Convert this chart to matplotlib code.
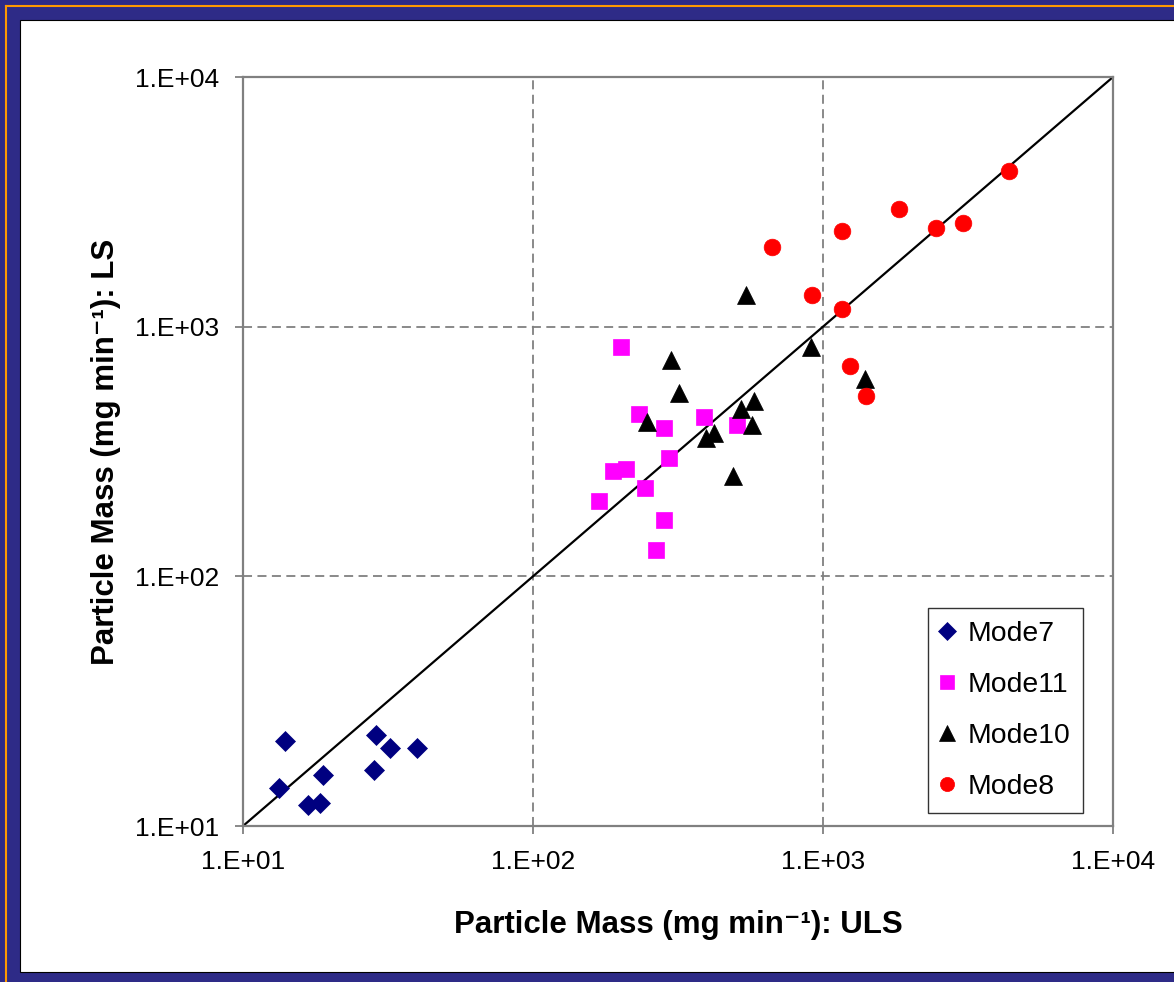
import numpy as np
import matplotlib
matplotlib.use('Agg')
import matplotlib.pyplot as plt
from matplotlib.patches import Rectangle
from matplotlib.lines import Line2D

plt.rcParams['font.family'] = ['Liberation Sans', 'DejaVu Sans']

# data (ULS on x, LS on y)
mode7_uls = [13.96, 13.31, 18.83, 16.80, 18.43, 28.74, 32.13, 28.29, 39.7]
mode7_ls = [21.96, 14.16, 15.96, 12.10, 12.40, 23.21, 20.47, 16.76, 20.47]

mode11_uls = [200.6, 232.6, 282.9, 389.6, 504.0, 295.0, 188.3, 209.3, 243.3, 168.9, 282.9, 265.6]
mode11_ls = [831, 445.6, 393.9, 435.9, 403.7, 298.7, 264.2, 269.8, 226.4, 200.3, 168.1, 127.5]

mode10_uls = [298.5, 318.0, 246.6, 520.3, 578.3, 567.8, 421.9, 395.0, 488.2, 542.7, 906.9, 1396]
mode10_ls = [735.4, 543.9, 414.0, 466.7, 503.9, 403.7, 374.1, 357.2, 252.3, 1339, 831, 618.8]

mode8_uls = [667.3, 1160, 1824, 2453, 3046, 4390, 918.7, 1160, 1239, 1407]
mode8_ls = [2091, 2423, 2953, 2491, 2609, 4203, 1339, 1177, 695.6, 529]

one_to_one = [10, 10000]
tick_vals = [10, 100, 1000, 10000]
tick_labels = ['1.E+01', '1.E+02', '1.E+03', '1.E+04']

W, H = 1174, 982
fig = plt.figure(figsize=(W/100.0, H/100.0), dpi=100)
fig.patch.set_facecolor('#2E2B87')

# white panel and orange frame line (kept behind the axes)
fig.patches.append(Rectangle((20.0/W, 10.0/H), 1.2, 1 - 30.0/H, transform=fig.transFigure,
                             facecolor='white', edgecolor='black', linewidth=0.8, zorder=-2))
fig.lines.append(Line2D([6.0/W, 6.0/W], [1 - 6.0/H, -0.1], transform=fig.transFigure,
                        color='#FF9900', linewidth=1.5, zorder=-1))
fig.lines.append(Line2D([6.0/W, 1.1], [1 - 6.0/H, 1 - 6.0/H], transform=fig.transFigure,
                        color='#FF9900', linewidth=1.5, zorder=-1))

ax = fig.add_axes([243.0/W, 1 - 826.0/H, 870.0/W, 749.0/H])
ax.set_xscale('log')
ax.set_yscale('log')
ax.set_xlim(10, 10000)
ax.set_ylim(10, 10000)

ax.plot(one_to_one, one_to_one, color='black', linewidth=1.6, zorder=2)

ax.plot(mode7_uls, mode7_ls, linestyle='none', marker='D', markersize=10.5,
        color='#000080', markeredgewidth=0.5, label='Mode7', zorder=3)
ax.plot(mode11_uls, mode11_ls, linestyle='none', marker='s', markersize=11.5,
        color='#FF00FF', markeredgewidth=0.5, label='Mode11', zorder=3)
ax.plot(mode10_uls, mode10_ls, linestyle='none', marker='^', markersize=13,
        color='black', markeredgewidth=0.5, label='Mode10', zorder=3)
ax.plot(mode8_uls, mode8_ls, linestyle='none', marker='o', markersize=12,
        color='#FF0000', markeredgewidth=0.5, label='Mode8', zorder=3)

ax.set_xticks(tick_vals)
ax.set_xticklabels(tick_labels)
ax.set_yticks(tick_vals)
ax.set_yticklabels(tick_labels)
ax.minorticks_off()
ax.tick_params(axis='both', which='major', direction='out', length=6, width=1.3,
               color='#808080', labelsize=19)
ax.tick_params(axis='x', pad=11)
ax.tick_params(axis='y', pad=11)

for v in tick_vals[1:3]:
    ax.axhline(v, color='#808080', linewidth=1.3, linestyle=(0, (5, 3)), zorder=1)
    ax.axvline(v, color='#808080', linewidth=1.3, linestyle=(0, (5, 3)), zorder=1)

for s in ax.spines.values():
    s.set_color('#808080')
    s.set_linewidth(1.6)

ax.set_xlabel('Particle Mass (mg min\u207b\u00b9): ULS', fontsize=22.5, fontweight='bold')
ax.set_ylabel('Particle Mass (mg min\u207b\u00b9): LS', fontsize=22.5, fontweight='bold')
ax.xaxis.set_label_coords(0.5, (826 - 910) / 749.0)
ax.yaxis.set_label_coords((121 - 243) / 870.0, 0.5)

leg = ax.legend(loc='upper right', bbox_to_anchor=((1083 - 243) / 870.0, (826 - 608) / 749.0),
                fontsize=20.4, frameon=True, fancybox=False, shadow=False, borderaxespad=0,
                handlelength=0.5, handletextpad=0.46, labelspacing=0.885, borderpad=0.45,
                markerscale=0.85)
leg.get_frame().set_edgecolor('black')
leg.get_frame().set_linewidth(1.0)

fig.savefig('out.png', dpi=100, facecolor=fig.get_facecolor())
